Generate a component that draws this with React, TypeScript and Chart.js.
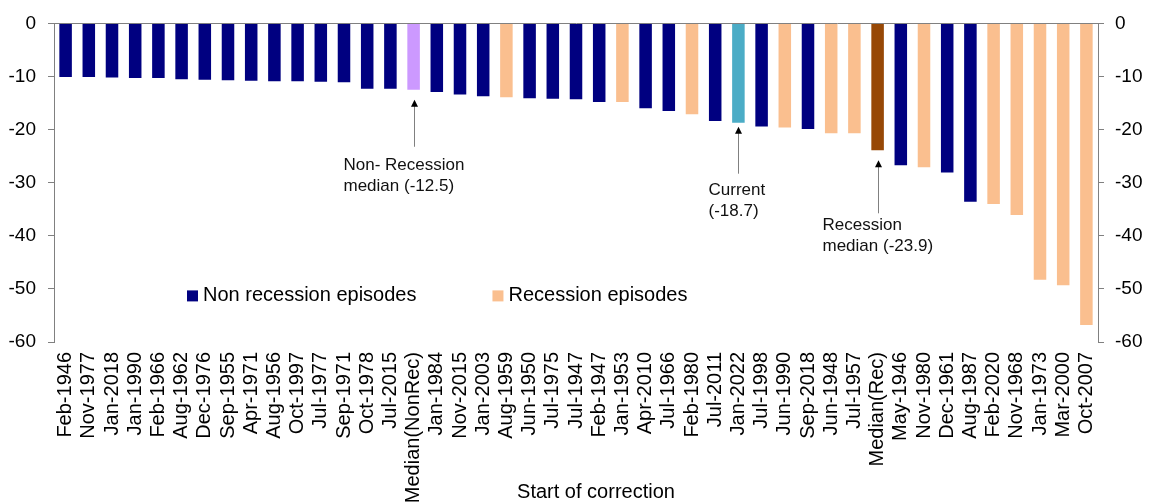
import React, { useEffect, useRef } from "react";
import { Chart, registerables } from "chart.js";

Chart.register(...registerables);

const FONT = "'Liberation Sans', Arial, Helvetica, sans-serif";

const categories = [
  "Feb-1946", "Nov-1977", "Jan-2018", "Jan-1990", "Feb-1966", "Aug-1962", "Dec-1976", "Sep-1955",
  "Apr-1971", "Aug-1956", "Oct-1997", "Jul-1977", "Sep-1971", "Oct-1978", "Jul-2015", "Median(NonRec)",
  "Jan-1984", "Nov-2015", "Jan-2003", "Aug-1959", "Jun-1950", "Jul-1975", "Jul-1947", "Feb-1947",
  "Jan-1953", "Apr-2010", "Jul-1966", "Feb-1980", "Jul-2011", "Jan-2022", "Jul-1998", "Jun-1990",
  "Sep-2018", "Jun-1948", "Jul-1957", "Median(Rec)", "May-1946", "Nov-1980", "Dec-1961", "Aug-1987",
  "Feb-2020", "Nov-1968", "Jan-1973", "Mar-2000", "Oct-2007",
];

const values = [
  -10.1, -10.1, -10.2, -10.3, -10.3, -10.5, -10.6, -10.7,
  -10.8, -10.9, -10.9, -11.0, -11.1, -12.3, -12.3, -12.5,
  -12.9, -13.4, -13.7, -13.9, -14.1, -14.2, -14.3, -14.8,
  -14.8, -16.0, -16.5, -17.1, -18.4, -18.7, -19.4, -19.6,
  -19.9, -20.7, -20.7, -23.9, -26.7, -27.1, -28.1, -33.6,
  -34.0, -36.1, -48.3, -49.3, -56.8,
];

// N = non recession, R = recession, MN = non-recession median, C = current, MR = recession median
const episodeTypes = [
  "N", "N", "N", "N", "N", "N", "N", "N",
  "N", "N", "N", "N", "N", "N", "N", "MN",
  "N", "N", "N", "R", "N", "N", "N", "N",
  "R", "N", "N", "R", "N", "C", "N", "R",
  "N", "R", "R", "MR", "N", "R", "N", "N",
  "R", "R", "R", "R", "R",
];

const yTicks = [0, -10, -20, -30, -40, -50, -60];

const legendLabels = ["Non recession episodes", "Recession episodes"];
const xTitle = "Start of correction";

const COLORS: Record<string, string> = {
  N: "#000080",
  R: "#FABF8F",
  MN: "#CC99FF",
  C: "#4BACC6",
  MR: "#974806",
};

const annotations = [
  { index: 15, lines: ["Non- Recession", "median (-12.5)"], gap: 10, len: 47, dx: -71, dy: 19 },
  { index: 29, lines: ["Current", "(-18.7)"], gap: 4, len: 47, dx: -30, dy: 17 },
  { index: 35, lines: ["Recession", "median (-23.9)"], gap: 10, len: 53, dx: -56, dy: 12 },
];

const overlayPlugin = {
  id: "overlay",
  afterDraw(chart: any) {
    const { ctx, chartArea, scales } = chart;
    const xs = scales.x;
    const ys = scales.y;
    ctx.save();

    // annotations with arrows
    annotations.forEach((a) => {
      const px = Math.round(xs.getPixelForValue(a.index)) + 0.5;
      const barEnd = ys.getPixelForValue(values[a.index]);
      const tip = barEnd + a.gap;
      const end = tip + a.len;
      ctx.strokeStyle = "#808080";
      ctx.lineWidth = 1;
      ctx.beginPath();
      ctx.moveTo(px, tip + 6);
      ctx.lineTo(px, end);
      ctx.stroke();
      ctx.fillStyle = "#000";
      ctx.beginPath();
      ctx.moveTo(px, tip);
      ctx.lineTo(px - 3.5, tip + 7);
      ctx.lineTo(px + 3.5, tip + 7);
      ctx.closePath();
      ctx.fill();
      ctx.font = `17px ${FONT}`;
      ctx.textAlign = "left";
      ctx.textBaseline = "middle";
      ctx.fillStyle = "#111";
      a.lines.forEach((line, i) => {
        ctx.fillText(line, px + a.dx, end + a.dy + i * 21);
      });
    });

    // legend inside plot
    ctx.font = `20px ${FONT}`;
    ctx.textBaseline = "middle";
    ctx.textAlign = "left";
    const legendColors = [COLORS.N, COLORS.R];
    let lx = chartArea.left + 133;
    const ly = chartArea.top + 272;
    legendLabels.forEach((label, i) => {
      ctx.fillStyle = legendColors[i];
      ctx.fillRect(lx, ly - 5, 11, 11);
      ctx.fillStyle = "#000";
      ctx.fillText(label, lx + 16, ly);
      lx += 16 + ctx.measureText(label).width + 76;
    });

    // x axis title
    ctx.font = `20px ${FONT}`;
    ctx.textAlign = "center";
    ctx.textBaseline = "middle";
    ctx.fillStyle = "#000";
    ctx.fillText(xTitle, (chartArea.left + chartArea.right) / 2 + 20, chartArea.bottom + 150);

    ctx.restore();
  },
};

export default function App() {
  const canvasRef = useRef<HTMLCanvasElement | null>(null);

  useEffect(() => {
    if (!canvasRef.current) return;
    const chart = new Chart(canvasRef.current, {
      type: "bar",
      data: {
        labels: categories,
        datasets: [
          {
            data: values,
            backgroundColor: episodeTypes.map((t) => COLORS[t]),
            borderWidth: 0,
            barPercentage: 0.54,
            categoryPercentage: 1.0,
            yAxisID: "y",
          },
        ],
      },
      options: {
        animation: false,
        responsive: false,
        layout: { padding: { top: 20, bottom: 0, left: 0, right: 0 } },
        plugins: {
          legend: { display: false },
          tooltip: { enabled: false },
        },
        scales: {
          x: {
            position: "bottom",
            grid: { display: false, drawTicks: false },
            border: { display: false },
            ticks: {
              autoSkip: false,
              maxRotation: 90,
              minRotation: 90,
              padding: 10,
              color: "#000",
              font: { family: FONT, size: 20 },
            },
            afterFit: (s: any) => {
              s.height = 161;
            },
          },
          y: {
            position: "left",
            min: -60,
            max: 0,
            afterBuildTicks: (s: any) => {
              s.ticks = yTicks.map((v) => ({ value: v }));
            },
            ticks: {
              padding: 12,
              color: "#000",
              font: { family: FONT, size: 19 },
            },
            grid: {
              color: (c: any) => (c.tick && c.tick.value === 0 ? "#808080" : "rgba(0,0,0,0)"),
              tickColor: "#808080",
              tickLength: 6,
              drawOnChartArea: true,
            },
            border: { color: "#808080", width: 1 },
            afterFit: (s: any) => {
              s.width = 54;
            },
          },
          y2: {
            position: "right",
            min: -60,
            max: 0,
            afterBuildTicks: (s: any) => {
              s.ticks = yTicks.map((v) => ({ value: v }));
            },
            ticks: {
              padding: 11,
              color: "#000",
              font: { family: FONT, size: 19 },
            },
            grid: {
              drawOnChartArea: false,
              tickColor: "#808080",
              tickLength: 6,
            },
            border: { color: "#808080", width: 1 },
            afterFit: (s: any) => {
              s.width = 52;
            },
          },
        },
      },
      plugins: [overlayPlugin],
    });
    return () => chart.destroy();
  }, []);

  return (
    <div style={{ position: "absolute", left: 0, top: 0, width: 1150, height: 503, background: "#fff" }}>
      <canvas ref={canvasRef} width={1150} height={503} />
    </div>
  );
}
